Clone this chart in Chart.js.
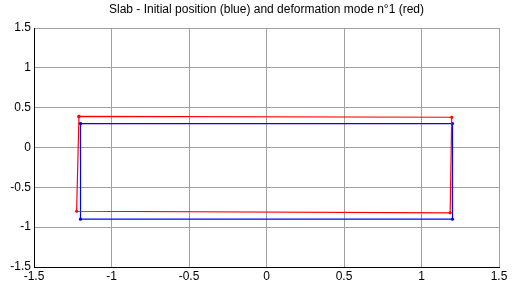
<!DOCTYPE html>
<html>
<head>
<meta charset="utf-8">
<script src="https://cdn.jsdelivr.net/npm/chart.js@4/dist/chart.umd.min.js"></script>
<style>
  html, body { margin: 0; padding: 0; background: #fff; }
  #wrap { width: 513px; height: 288px; }
</style>
</head>
<body>
<div id="wrap"><canvas id="slabChart"></canvas></div>
<script>
// slab outline, closed (first corner repeated)
let initialX = [-1.2, 1.2, 1.2, -1.2, -1.2];
let initialY = [0.3, 0.3, -0.9, -0.9, 0.3];
let modeX = [-1.21, 1.195, 1.185, -1.225, -1.21];
let modeY = [0.39, 0.38, -0.82, -0.80, 0.39];
let xTicks = [-1.5, -1, -0.5, 0, 0.5, 1, 1.5];
let yTicks = [-1.5, -1, -0.5, 0, 0.5, 1, 1.5];
let titleText = 'Slab - Initial position (blue) and deformation mode n\u00b01 (red)';

function toPoints(xs, ys) {
    return xs.map((x, i) => ({x: x, y: ys[i]}));
}

function tickLabel(v) {
    return String(v);
}

let font = {family: '"Liberation Sans", Arial, sans-serif', size: 12};

// title centred over the plot area, like matlab does
let axesTitle = {
    id: 'axesTitle',
    afterDraw(chart) {
        let c = chart.ctx;
        let area = chart.chartArea;
        c.save();
        c.font = '12px ' + font.family;
        c.fillStyle = '#000';
        c.textAlign = 'center';
        c.textBaseline = 'middle';
        c.fillText(titleText, (area.left + area.right) / 2, 10);
        c.restore();
    }
};

let ctx = document.getElementById('slabChart').getContext('2d');
let chart = new Chart(ctx, {
    type: 'scatter',
    data: {
        datasets: [
            {
                label: 'mode 1',
                data: toPoints(modeX, modeY),
                showLine: true,
                borderColor: '#ff0000',
                backgroundColor: '#ff0000',
                borderWidth: 1.2,
                pointRadius: 1.6,
                pointBorderWidth: 0,
            },
            {
                label: 'initial',
                data: toPoints(initialX, initialY),
                showLine: true,
                borderColor: '#0000ff',
                backgroundColor: '#0000ff',
                borderWidth: 1.2,
                pointRadius: 1.6,
                pointBorderWidth: 0,
            },
        ],
    },
    plugins: [axesTitle],
    options: {
        responsive: true,
        maintainAspectRatio: false,
        animation: false,
        layout: {padding: {right: 14, top: 28, left: 0, bottom: 0}},
        plugins: {
            legend: {display: false},
            tooltip: {enabled: false},
            title: {display: false},
        },
        scales: {
            x: {
                type: 'linear',
                min: -1.5,
                max: 1.5,
                afterBuildTicks: (scale) => { scale.ticks = xTicks.map((v) => ({value: v})); },
                afterFit: (scale) => { scale.height = 21; },
                ticks: {
                    callback: tickLabel,
                    color: '#000',
                    font: font,
                    padding: 2,
                    maxRotation: 0,
                },
                grid: {color: '#a0a0a0', lineWidth: 1, drawTicks: false},
                border: {color: '#000', width: 1},
            },
            y: {
                type: 'linear',
                min: -1.5,
                max: 1.5,
                afterBuildTicks: (scale) => { scale.ticks = yTicks.map((v) => ({value: v})); },
                afterFit: (scale) => { scale.width = 34; },
                ticks: {
                    callback: tickLabel,
                    color: '#000',
                    font: font,
                    padding: 3,
                },
                grid: {color: '#a0a0a0', lineWidth: 1, drawTicks: false},
                border: {color: '#000', width: 1},
            },
        },
    },
});
</script>
</body>
</html>
